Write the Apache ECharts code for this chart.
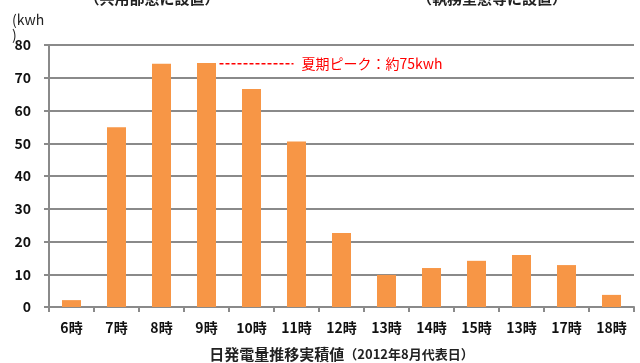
<!DOCTYPE html>
<html>
<head>
<meta charset="utf-8">
<script src="https://cdn.jsdelivr.net/npm/echarts@6/dist/echarts.min.js"></script>
<style>
  html, body { margin: 0; padding: 0; background: #fff; }
  #chart { width: 640px; height: 363px; }
</style>
</head>
<body>
<div id="chart"></div>
<script>
// hours as printed on the chart (the 16h label reads 13時 in the original)
const hours = ['6時', '7時', '8時', '9時', '10時', '11時', '12時', '13時', '14時', '15時', '13時', '17時', '18時'];
const energy = [2.1, 54.9, 74.3, 74.5, 66.6, 50.5, 22.6, 9.8, 11.9, 14.1, 15.9, 12.8, 3.7];
const yTicks = [0, 10, 20, 30, 40, 50, 60, 70, 80];
const peakValue = 74.3;
const peakNote = '夏期ピーク：約75kwh';

const font = '"Noto Sans CJK JP", "Liberation Sans", sans-serif';
const chart = echarts.init(document.getElementById('chart'));

const option = {
  animation: false,
  grid: { left: 49, right: 6, top: 45, bottom: 56, outerBoundsMode: 'none', containLabel: false },
  xAxis: {
    type: 'category',
    data: hours,
    name: '{a|日発電量推移実積値}{b|（2012年8月代表日）}',
    nameLocation: 'middle',
    nameGap: 40,
    nameTextStyle: {
      rich: {
        a: { fontFamily: font, fontSize: 15, fontWeight: 'bold', color: '#222' },
        b: { fontFamily: font, fontSize: 13, fontWeight: 'bold', color: '#222' },
      },
    },
    axisLine: { lineStyle: { color: '#8a8a8a', width: 2 } },
    axisTick: { show: true, length: 5, lineStyle: { color: '#8a8a8a', width: 2 } },
    axisLabel: {
      margin: 14,
      interval: 0,
      fontFamily: font,
      fontSize: 14,
      fontWeight: 'bold',
      color: '#111',
    },
  },
  yAxis: {
    type: 'value',
    min: yTicks[0],
    max: yTicks[yTicks.length - 1],
    interval: 10,
    axisLine: { show: true, lineStyle: { color: '#8a8a8a', width: 2 } },
    axisTick: { show: true, length: 5, lineStyle: { color: '#8a8a8a', width: 2 } },
    splitLine: { lineStyle: { color: '#8a8a8a', width: 2 } },
    axisLabel: {
      margin: 18,
      fontFamily: font,
      fontSize: 14,
      fontWeight: 'bold',
      color: '#111',
    },
  },
  series: [
    {
      type: 'bar',
      data: energy,
      barWidth: 19,
      itemStyle: { color: '#F79646' },
      z: 3,
    },
  ],
  graphic: [
    {
      type: 'text',
      left: 12,
      top: 12,
      style: { text: '(kwh\n)', font: '14px ' + font, fill: '#222', lineHeight: 15 },
    },
    {
      type: 'text',
      x: 152,
      y: -2,
      style: {
        text: '（共用部窓に設置）',
        font: 'bold 15px ' + font,
        fill: '#222',
        align: 'center',
        verticalAlign: 'middle',
      },
    },
    {
      type: 'text',
      x: 492,
      y: -2,
      style: {
        text: '（執務室窓等に設置）',
        font: 'bold 15px ' + font,
        fill: '#222',
        align: 'center',
        verticalAlign: 'middle',
      },
    },
  ],
};

chart.setOption(option);

// peak annotation: dashed red line from the 9時 bar to the note
const start = chart.convertToPixel({ seriesIndex: 0 }, [3, peakValue]);
chart.setOption({
  graphic: option.graphic.concat([
    {
      type: 'line',
      shape: { x1: start[0] + 13, y1: start[1], x2: start[0] + 87, y2: start[1] },
      style: { stroke: '#ff0000', lineWidth: 1.5, lineDash: [4, 2] },
      z: 10,
    },
    {
      type: 'text',
      x: start[0] + 95,
      y: start[1],
      style: {
        text: peakNote,
        font: '14px ' + font,
        fill: '#ff0000',
        verticalAlign: 'middle',
      },
      z: 10,
    },
  ]),
});
</script>
</body>
</html>
